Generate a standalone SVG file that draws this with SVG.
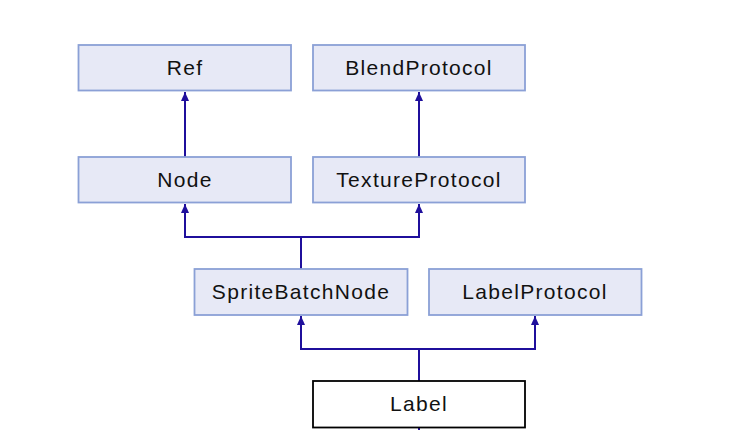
<svg xmlns="http://www.w3.org/2000/svg" width="738" height="430" viewBox="0 0 738 430">
<defs>
<style>
.box{fill:#e7e9f6;stroke:#8ba0d6;stroke-width:1.8}
.cur{fill:#ffffff;stroke:#000000;stroke-width:1.8}
.t{font-family:"Liberation Sans",Arial,sans-serif;font-size:21px;fill:#111;text-anchor:middle;letter-spacing:1.3px}
.e{fill:none;stroke:#1f0f9c;stroke-width:2}
</style>
<marker id="ah" viewBox="0 0 9 10" refX="9" refY="5" markerWidth="9" markerHeight="10" markerUnits="userSpaceOnUse" orient="auto">
<path d="M0,1 L9,5 L0,9 Z" fill="#1f0f9c"/>
</marker>
</defs>
<rect width="738" height="430" fill="#ffffff"/>
<g id="connectors">
<path class="e" d="M185,157 V92" marker-end="url(#ah)"/>
<path class="e" d="M419,157 V92" marker-end="url(#ah)"/>
<path class="e" d="M301,269 V237 H185 V204" marker-end="url(#ah)"/>
<path class="e" d="M301,237 H419 V204" marker-end="url(#ah)"/>
<path class="e" d="M419,381 V349 H301 V316" marker-end="url(#ah)"/>
<path class="e" d="M419,349 H535 V316" marker-end="url(#ah)"/>
<path class="e" d="M419,428 V432"/>
</g>
<g id="Ref"><rect class="box" x="78.5" y="45" width="212.5" height="45.5"/><text class="t" x="185" y="75">Ref</text></g>
<g id="BlendProtocol"><rect class="box" x="313" y="45" width="212" height="45.5"/><text class="t" x="419" y="75">BlendProtocol</text></g>
<g id="Node"><rect class="box" x="78.5" y="157" width="212.5" height="45.5"/><text class="t" x="185" y="187">Node</text></g>
<g id="TextureProtocol"><rect class="box" x="313" y="157" width="212" height="45.5"/><text class="t" x="419" y="187">TextureProtocol</text></g>
<g id="SpriteBatchNode"><rect class="box" x="194.5" y="269" width="213" height="46"/><text class="t" x="301" y="299">SpriteBatchNode</text></g>
<g id="LabelProtocol"><rect class="box" x="429" y="269" width="212.5" height="46"/><text class="t" x="535" y="299">LabelProtocol</text></g>
<g id="Label"><rect class="cur" x="313" y="381" width="212" height="46.5"/><text class="t" x="419" y="411">Label</text></g>
</svg>
